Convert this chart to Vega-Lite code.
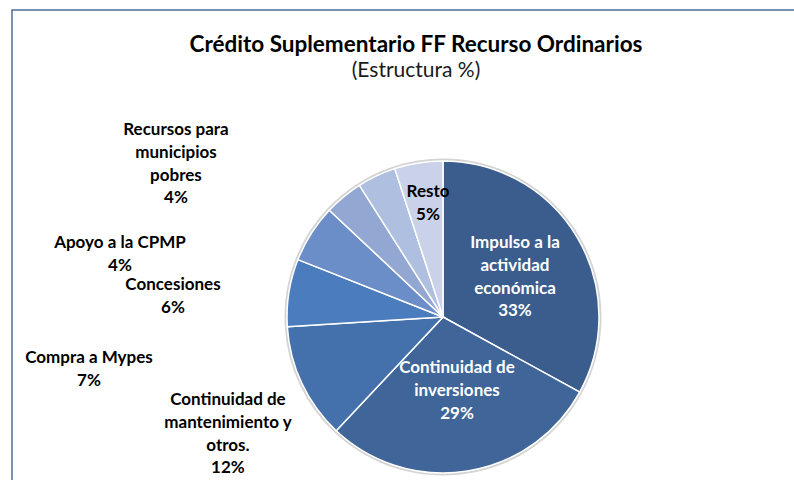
{
  "$schema": "https://vega.github.io/schema/vega-lite/v6.json",
  "width": 862,
  "height": 614,
  "autosize": {"type": "none"},
  "padding": {"left": 12, "top": 10, "right": 0, "bottom": 0},
  "background": "white",
  "view": {"stroke": "#4F6E9E", "strokeWidth": 1.5},
  "config": {
    "view": {"stroke": "#4F6E9E", "strokeWidth": 1.5},
    "font": "Lato"
  },
  "title": {
    "text": "Crédito Suplementario FF Recurso Ordinarios",
    "subtitle": "(Estructura %)",
    "anchor": "middle",
    "orient": "top",
    "offset": -97,
    "dx": -27,
    "font": "Lato",
    "fontSize": 22.5,
    "fontWeight": "bold",
    "color": "#000000",
    "subtitleFont": "Lato",
    "subtitleFontSize": 21,
    "subtitleColor": "#1a1a1a",
    "subtitlePadding": 3
  },
  "data": {
    "values": [
      {"cat": "Impulso a la actividad económica", "value": 33, "order": 1, "label": "Impulso a la\nactividad\neconómica\n33%"},
      {"cat": "Continuidad de inversiones", "value": 29, "order": 2, "label": "Continuidad  de\ninversiones\n29%"},
      {"cat": "Continuidad de mantenimiento y otros.", "value": 12, "order": 3, "label": "Continuidad  de\nmantenimiento y\notros.\n12%"},
      {"cat": "Compra a Mypes", "value": 7, "order": 4, "label": "Compra a Mypes\n7%"},
      {"cat": "Concesiones", "value": 6, "order": 5, "label": "Concesiones\n6%"},
      {"cat": "Apoyo a la CPMP", "value": 4, "order": 6, "label": "Apoyo a la CPMP\n4%"},
      {"cat": "Recursos para municipios pobres", "value": 4, "order": 7, "label": "Recursos para\nmunicipios\npobres\n4%"},
      {"cat": "Resto", "value": 5, "order": 8, "label": "Resto\n5%"}
    ]
  },
  "layer": [
    {
      "mark": {"type": "point", "opacity": 0},
      "encoding": {
        "x": {"field": "value", "type": "quantitative", "axis": null},
        "y": {"field": "order", "type": "quantitative", "axis": null}
      }
    },
    {
      "mark": {"type": "arc", "radius": 158.5, "fill": "#d4d4d4", "stroke": null},
      "encoding": {
        "theta": {"field": "value", "type": "quantitative", "stack": true},
        "order": {"field": "order", "type": "quantitative"}
      }
    },
    {
      "mark": {"type": "arc", "radius": 156, "stroke": "#ffffff", "strokeWidth": 1.5},
      "encoding": {
        "theta": {"field": "value", "type": "quantitative", "stack": true},
        "order": {"field": "order", "type": "quantitative"},
        "color": {
          "field": "cat",
          "type": "nominal",
          "sort": {"field": "order"},
          "scale": {
            "domain": ["Impulso a la actividad económica", "Continuidad de inversiones", "Continuidad de mantenimiento y otros.", "Compra a Mypes", "Concesiones", "Apoyo a la CPMP", "Recursos para municipios pobres", "Resto"],
            "range": ["#3A5D8E", "#3F6599", "#4471AB", "#4A7CBE", "#6B8EC8", "#93A7D3", "#AFBFDF", "#C9D2E8"]
          },
          "legend": null
        }
      }
    },
    {
      "mark": {"type": "text", "radius": 103.2, "thetaOffset": -0.265, "lineBreak": "\n", "lineHeight": 22.8, "fontSize": 17, "letterSpacing": 0.6, "fontWeight": "bold", "fill": "#ffffff", "align": "center", "baseline": "middle"},
      "encoding": {
        "theta": {"field": "value", "type": "quantitative", "stack": true},
        "order": {"field": "order", "type": "quantitative"},
        "text": {"condition": {"test": "datum.order === 1", "field": "label"}, "value": ""}
      }
    },
    {
      "mark": {"type": "text", "radius": 52.9, "thetaOffset": -0.111, "lineBreak": "\n", "lineHeight": 22.8, "fontSize": 17, "letterSpacing": 0.6, "fontWeight": "bold", "fill": "#ffffff", "align": "center", "baseline": "middle"},
      "encoding": {
        "theta": {"field": "value", "type": "quantitative", "stack": true},
        "order": {"field": "order", "type": "quantitative"},
        "text": {"condition": {"test": "datum.order === 2", "field": "label"}, "value": ""}
      }
    },
    {
      "mark": {"type": "text", "radius": 125.9, "thetaOffset": 0.0377, "lineBreak": "\n", "lineHeight": 22.8, "fontSize": 17, "letterSpacing": 0.6, "fontWeight": "bold", "fill": "#000000", "align": "center", "baseline": "middle"},
      "encoding": {
        "theta": {"field": "value", "type": "quantitative", "stack": true},
        "order": {"field": "order", "type": "quantitative"},
        "text": {"condition": {"test": "datum.cat === 'Resto'", "field": "label"}, "value": ""}
      }
    },
    {
      "mark": {"type": "text", "radius": 230.5, "thetaOffset": 0.0716, "lineBreak": "\n", "lineHeight": 22.8, "fontSize": 17, "letterSpacing": 0.6, "fontWeight": "bold", "fill": "#000000", "align": "center", "baseline": "middle"},
      "encoding": {
        "theta": {"field": "value", "type": "quantitative", "stack": true},
        "order": {"field": "order", "type": "quantitative"},
        "text": {"condition": {"test": "datum.order === 3", "field": "label"}, "value": ""}
      }
    },
    {
      "mark": {"type": "text", "radius": 356.4, "thetaOffset": -0.2725, "lineBreak": "\n", "lineHeight": 22.8, "fontSize": 17, "letterSpacing": 0.6, "fontWeight": "bold", "fill": "#000000", "align": "center", "baseline": "middle"},
      "encoding": {
        "theta": {"field": "value", "type": "quantitative", "stack": true},
        "order": {"field": "order", "type": "quantitative"},
        "text": {"condition": {"test": "datum.cat === 'Compra a Mypes'", "field": "label"}, "value": ""}
      }
    },
    {
      "mark": {"type": "text", "radius": 271.9, "thetaOffset": -0.4475, "lineBreak": "\n", "lineHeight": 22.8, "fontSize": 17, "letterSpacing": 0.6, "fontWeight": "bold", "fill": "#000000", "align": "center", "baseline": "middle"},
      "encoding": {
        "theta": {"field": "value", "type": "quantitative", "stack": true},
        "order": {"field": "order", "type": "quantitative"},
        "text": {"condition": {"test": "datum.cat === 'Concesiones'", "field": "label"}, "value": ""}
      }
    },
    {
      "mark": {"type": "text", "radius": 331.4, "thetaOffset": -0.6545, "lineBreak": "\n", "lineHeight": 22.8, "fontSize": 17, "letterSpacing": 0.6, "fontWeight": "bold", "fill": "#000000", "align": "center", "baseline": "middle"},
      "encoding": {
        "theta": {"field": "value", "type": "quantitative", "stack": true},
        "order": {"field": "order", "type": "quantitative"},
        "text": {"condition": {"test": "datum.cat === 'Apoyo a la CPMP'", "field": "label"}, "value": ""}
      }
    },
    {
      "mark": {"type": "text", "radius": 326, "thetaOffset": -0.52, "lineBreak": "\n", "lineHeight": 22.8, "fontSize": 17, "letterSpacing": 0.6, "fontWeight": "bold", "fill": "#000000", "align": "center", "baseline": "middle"},
      "encoding": {
        "theta": {"field": "value", "type": "quantitative", "stack": true},
        "order": {"field": "order", "type": "quantitative"},
        "text": {"condition": {"test": "datum.order === 7", "field": "label"}, "value": ""}
      }
    }
  ]
}
